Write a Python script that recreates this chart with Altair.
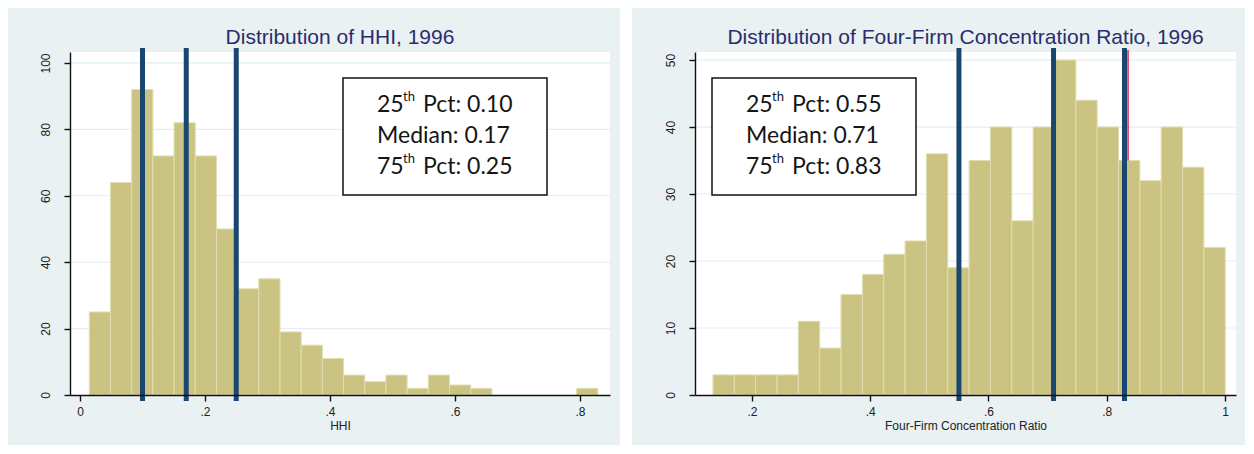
import altair as alt
import pandas as pd

# ---------------- data ----------------
# HHI histogram (left)
hhi_bin_start = 0.0149
hhi_bin_width = 0.0339
hhi_counts = [25, 64, 92, 72, 82, 72, 50, 32, 35, 19, 15, 11, 6, 4, 6, 2, 6, 3, 2, 0, 0, 0, 0, 2]
hhi_pcts = [0.10, 0.17, 0.25]
hhi_xticks = [0, 0.2, 0.4, 0.6, 0.8]
hhi_yticks = [0, 20, 40, 60, 80, 100]
hhi_title = "Distribution of HHI, 1996"
hhi_xtitle = "HHI"
hhi_box = [("25", "th", "Pct: 0.10"), ("Median: 0.17", "", ""), ("75", "th", "Pct: 0.25")]

# Four-firm concentration ratio histogram (right)
cr4_bin_start = 0.134
cr4_bin_width = 0.0361
cr4_counts = [3, 3, 3, 3, 11, 7, 15, 18, 21, 23, 36, 19, 35, 40, 26, 40, 50, 44, 40, 35, 32, 40, 34, 22]
cr4_pcts = [0.55, 0.71, 0.83]
cr4_red_x = [0.836]
cr4_red_y = [35]
cr4_xticks = [0.2, 0.4, 0.6, 0.8, 1.0]
cr4_yticks = [0, 10, 20, 30, 40, 50]
cr4_title = "Distribution of Four-Firm Concentration Ratio, 1996"
cr4_xtitle = "Four-Firm Concentration Ratio"
cr4_box = [("25", "th", "Pct: 0.55"), ("Median: 0.71", "", ""), ("75", "th", "Pct: 0.83")]

# ---------------- style ----------------
BG = "#eaf1f3"
GRID = "#e6eef1"
BAR = "#cbc382"
BAR_EDGE = "#e2ddb0"
NAVY = "#1a476f"
TITLE_C = "#2b2d6b"
H = 343
FONT = "Liberation Sans"

LABEL_EXPR = ("datum.value == 0 ? '0' : datum.value >= 1 ? '1' : "
              "slice(format(datum.value, '.1f'), 1)")


def panel(bin_start, bin_width, counts, pcts, xticks, yticks, title, xtitle,
          box_rows, width, xdom, ydom, bg_left, bg_right, box_x, box_w, red=None):
    n = len(counts)
    starts = [bin_start + i * bin_width for i in range(n)]
    bars_df = pd.DataFrame({"x0": starts,
                            "x1": [s + bin_width for s in starts],
                            "count": counts})
    bars_df = bars_df[bars_df["count"] > 0]

    xs = alt.Scale(domain=xdom, nice=False, zero=False)
    ys = alt.Scale(domain=ydom, nice=False, zero=True)
    x_axis = alt.Axis(values=xticks, labelExpr=LABEL_EXPR, title=xtitle, grid=False,
                      domainColor="#111", domainWidth=1.4, tickColor="#111", tickWidth=1.4,
                      tickSize=6, labelFontSize=12, labelFont=FONT, labelColor="#222",
                      labelPadding=5, titleFont=FONT, titleFontSize=12,
                      titleFontWeight="normal", titleColor="#222", titlePadding=3,
                      labelFlush=False, zindex=1)
    y_axis = alt.Axis(values=yticks, title=None, grid=False, labelAngle=270,
                      labelAlign="center", labelBaseline="bottom", labelPadding=12,
                      domainColor="#111", domainWidth=1.4, tickColor="#111", tickWidth=1.4,
                      tickSize=6, labelFontSize=12, labelFont=FONT, labelColor="#222",
                      labelFlush=False, zindex=1)

    def X(field):
        return alt.X(field, type="quantitative", scale=xs, axis=x_axis)

    def Y(field):
        return alt.Y(field, type="quantitative", scale=ys, axis=y_axis)

    one = pd.DataFrame({"a": [0]})
    bg = alt.Chart(one).mark_rect(fill=BG, strokeWidth=0).encode(
        x=alt.value(bg_left), x2=alt.value(width + bg_right),
        y=alt.value(-44), y2=alt.value(H + 50))
    plot_bg = alt.Chart(one).mark_rect(fill="white", strokeWidth=0).encode(
        x=alt.value(0), x2=alt.value(width), y=alt.value(0), y2=alt.value(H))
    grid = alt.Chart(pd.DataFrame({"g": yticks[1:]})).mark_rule(
        color=GRID, strokeWidth=1.2).encode(y=Y("g"))
    bars = alt.Chart(bars_df).mark_rect(color=BAR, stroke=BAR_EDGE, strokeWidth=1).encode(
        x=X("x0"), x2="x1", y=Y("count"), y2=alt.datum(0))
    layers = [bg, plot_bg, grid, bars]
    if red is not None:
        rdf = pd.DataFrame({"rx": red[0], "ry": red[1]})
        layers.append(alt.Chart(rdf).mark_rule(color="#e0204a", strokeWidth=1.5).encode(
            x=X("rx"), y=Y("ry"), y2=alt.value(-2)))
    vlines = alt.Chart(pd.DataFrame({"p": pcts})).mark_rule(
        color=NAVY, strokeWidth=5).encode(x=X("p"), y=alt.value(-4), y2=alt.value(H + 6))
    layers.append(vlines)

    box = alt.Chart(one).mark_rect(fill="white", stroke="#111", strokeWidth=1.5).encode(
        x=alt.value(box_x), x2=alt.value(box_x + box_w), y=alt.value(26), y2=alt.value(143))
    layers.append(box)

    baselines = [60, 91, 122]
    for (main, sup, rest), yb in zip(box_rows, baselines):
        layers.append(alt.Chart(one).mark_text(
            align="left", baseline="alphabetic", font="Lato", fontSize=23, color="#151515"
        ).encode(x=alt.value(box_x + 34), y=alt.value(yb), text=alt.value(main)))
        if sup:
            layers.append(alt.Chart(one).mark_text(
                align="left", baseline="alphabetic", font="Lato", fontSize=13, color="#151515"
            ).encode(x=alt.value(box_x + 60), y=alt.value(yb - 11), text=alt.value(sup)))
        if rest:
            layers.append(alt.Chart(one).mark_text(
                align="left", baseline="alphabetic", font="Lato", fontSize=23, color="#151515"
            ).encode(x=alt.value(box_x + 80), y=alt.value(yb), text=alt.value(rest)))

    layers.append(alt.Chart(one).mark_text(
        align="center", baseline="alphabetic", font=FONT, fontSize=21, color=TITLE_C
    ).encode(x=alt.value(width / 2), y=alt.value(-8), text=alt.value(title)))

    return alt.layer(*layers).properties(width=width, height=H)


left = panel(hhi_bin_start, hhi_bin_width, hhi_counts, hhi_pcts, hhi_xticks, hhi_yticks,
             hhi_title, hhi_xtitle, hhi_box, width=540, xdom=[-0.016, 0.848],
             ydom=[0, 103.3], bg_left=-62, bg_right=10, box_x=273, box_w=204)
right = panel(cr4_bin_start, cr4_bin_width, cr4_counts, cr4_pcts, cr4_xticks, cr4_yticks,
              cr4_title, cr4_xtitle, cr4_box, width=541, xdom=[0.1036, 1.0186],
              ydom=[0, 51.2], bg_left=-63, bg_right=9, box_x=17, box_w=204,
              red=(cr4_red_x, cr4_red_y))

chart = alt.hconcat(left, right, spacing=12).properties(
    padding=0, background="white"
).configure_view(strokeWidth=0)

chart.save("out.html", embed_options={"renderer": "svg", "actions": False})
